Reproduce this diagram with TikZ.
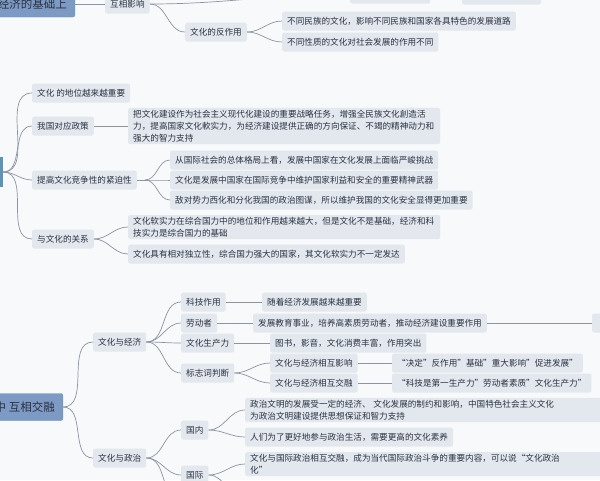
\documentclass[tikz,border=0pt]{standalone}
\usepackage{fontspec}
\setmainfont{Noto Sans CJK SC}
\usetikzlibrary{positioning}

\definecolor{bg}{HTML}{F8F9FA}
\definecolor{boxc}{HTML}{E3E8EF}
\definecolor{linkc}{HTML}{8A94A3}
\definecolor{rootc}{HTML}{7D9AC4}
\definecolor{midc}{HTML}{5E93B4}
\definecolor{txt}{HTML}{2A3140}

\tikzset{
    leaf/.style={fill=boxc, rounded corners=2pt, inner xsep=5pt, inner ysep=0pt,
        minimum height=19pt, anchor=west, text=txt, font=\fontsize{8.6}{12}\selectfont},
    wide/.style={leaf, text width=#1, align=left, inner ysep=2pt},
    rootbox/.style={fill=rootc, draw=rootc!80!teal, rounded corners=2pt, inner xsep=8pt,
        anchor=east, text=txt, font=\fontsize{11.5}{14}\selectfont},
    link/.style={draw=linkc, line width=0.7pt},
}

\begin{document}
\begin{tikzpicture}[x=1pt, y=-1pt]
    \fill[bg] (0,0) rectangle (600,480);
    \useasboundingbox (0,0) rectangle (600,480);
    \clip (0,0) rectangle (600,480);

    % top part
    \node[rootbox, minimum height=26pt] (econ) at (75,4) {经济的基础上};
    \node[leaf, minimum height=19pt] (mutual) at (105,4) {互相影响};
    \node[leaf] (react) at (185,32) {文化的反作用};
    \node[leaf] (nation) at (282,21) {不同民族的文化，影响不同民族和国家各具特色的发展道路};
    \node[leaf] (nature) at (282,42) {不同性质的文化对社会发展的作用不同};
    \node[leaf, minimum width=80pt] (topa) at (350,-6) {};
    \node[leaf] (topb) at (462,-5) {经济和政治发展的};

    \draw[link] (econ.east) -- (mutual.west);
    \draw[link] (mutual.east) to[out=0,in=180] (react.west);
    \draw[link] (mutual.east) to[out=0,in=180] (topa.west);
    \draw[link] (react.east) to[out=0,in=180] (nation.west);
    \draw[link] (react.east) to[out=0,in=180] (nature.west);

    % middle part
    \node[fill=midc, minimum width=10pt, minimum height=30pt, inner sep=0pt, anchor=east] (power) at (3,172) {};
    \node[leaf] (status) at (32,93) {文化 的地位越来越重要};
    \node[leaf] (policy) at (32,126) {我国对应政策};
    \node[wide=302pt] (policyx) at (128,126) {把文化建设作为社会主义现代化建设的重要战略任务，增强全民族文化創造活\\力，提高国家文化軟实力，为经济建设提供正确的方向保证、不竭的精神动力和\\强大的智力支持};
    \node[leaf] (urgent) at (32,180) {提高文化竞争性的紧迫性};
    \node[leaf] (urga) at (170,160) {从国际社会的总体格局上看，发展中国家在文化发展上面临严峻挑战};
    \node[leaf] (urgb) at (170,180) {文化是发展中国家在国际竞争中维护国家利益和安全的重要精神武器};
    \node[leaf] (urgc) at (170,200) {敌对势力西化和分化我国的政治图谋，所以维护我国的文化安全显得更加重要};
    \node[leaf] (relat) at (32,239) {与文化的关系};
    \node[wide=302pt] (rela) at (128,227) {文化软实力在综合国力中的地位和作用越来越大，但是文化不是基础，经济和科\\技实力是综合国力的基础};
    \node[leaf] (relb) at (128,254) {文化具有相对独立性，综合国力强大的国家，其文化软实力不一定发达};
    \coordinate (urgfork) at ([xshift=8pt]urgent.east);

    \foreach \n in {status,policy,urgent,relat}
        \draw[link] (power.east) to[out=0,in=180] (\n.west);
    \draw[link] (policy.east) -- (policyx.west);
    \draw[link] (urgent.east) -- (urgfork);
    \foreach \n in {urga,urgb,urgc}
        \draw[link] (urgfork) to[out=0,in=180] (\n.west);
    \foreach \n in {rela,relb}
        \draw[link] (relat.east) to[out=0,in=180] (\n.west);

    % bottom part
    \node[rootbox, minimum height=27pt] (blend) at (63,407) {中 互相交融};
    \node[leaf] (cecon) at (93,342) {文化与经济};
    \node[leaf] (cpol) at (93,458) {文化与政治};
    \node[leaf] (tech) at (181,302) {科技作用};
    \node[leaf] (techx) at (262,302) {随着经济发展越来越重要};
    \node[leaf] (labor) at (181,323) {劳动者};
    \node[leaf] (laborx) at (253,323) {发展教育事业，培养高素质劳动者，推动经济建设重要作用};
    \node[leaf, minimum width=30pt] (laborr) at (592,323) {};
    \node[leaf] (prod) at (181,343) {文化生产力};
    \node[leaf] (prodx) at (270,343) {图书，影音，文化消费丰富，作用突出};
    \node[leaf] (mark) at (181,373) {标志词判断};
    \node[leaf] (marka) at (270,363) {文化与经济相互影响};
    \node[leaf] (markax) at (392,363) {“决定”反作用”基础”重大影响”促进发展”};
    \node[leaf] (markb) at (270,383) {文化与经济相互交融};
    \node[leaf] (markbx) at (392,383) {“科技是第一生产力”劳动者素质”文化生产力”};
    \node[leaf] (home) at (181,430) {国内};
    \node[wide=360pt] (homea) at (245,410) {政治文明的发展受一定的经济、 文化发展的制约和影响，中国特色社会主义文化\\为政治文明建设提供思想保证和智力支持};
    \node[leaf] (homeb) at (245,437) {人们为了更好地参与政治生活，需要更高的文化素养};
    \node[leaf] (intl) at (181,475) {国际};
    \node[wide=360pt] (intla) at (245,464) {文化与国际政治相互交融，成为当代国际政治斗争的重要内容，可以说“文化政治\\化”};
    \coordinate (below) at (181,500);
    \coordinate (belowb) at (245,500);

    \draw[link] (blend.east) to[out=0,in=180] (cecon.west);
    \draw[link] (blend.east) to[out=0,in=180] (cpol.west);
    \foreach \n in {tech,labor,prod,mark}
        \draw[link] (cecon.east) to[out=0,in=180] (\n.west);
    \draw[link] (tech.east) -- (techx.west);
    \draw[link] (labor.east) -- (laborx.west);
    \draw[link] (laborx.east) -- (laborr.west);
    \draw[link] (prod.east) -- (prodx.west);
    \draw[link] (mark.east) to[out=0,in=180] (marka.west);
    \draw[link] (mark.east) to[out=0,in=180] (markb.west);
    \draw[link] (marka.east) -- (markax.west);
    \draw[link] (markb.east) -- (markbx.west);
    \draw[link] (cpol.east) to[out=0,in=180] (home.west);
    \draw[link] (cpol.east) to[out=0,in=180] (intl.west);
    \draw[link] (cpol.east) to[out=0,in=180] (below);
    \draw[link] (home.east) to[out=0,in=180] (homea.west);
    \draw[link] (home.east) to[out=0,in=180] (homeb.west);
    \draw[link] (intl.east) to[out=0,in=180] (intla.west);
    \draw[link] (intl.east) to[out=0,in=180] (belowb);
\end{tikzpicture}
\end{document}
